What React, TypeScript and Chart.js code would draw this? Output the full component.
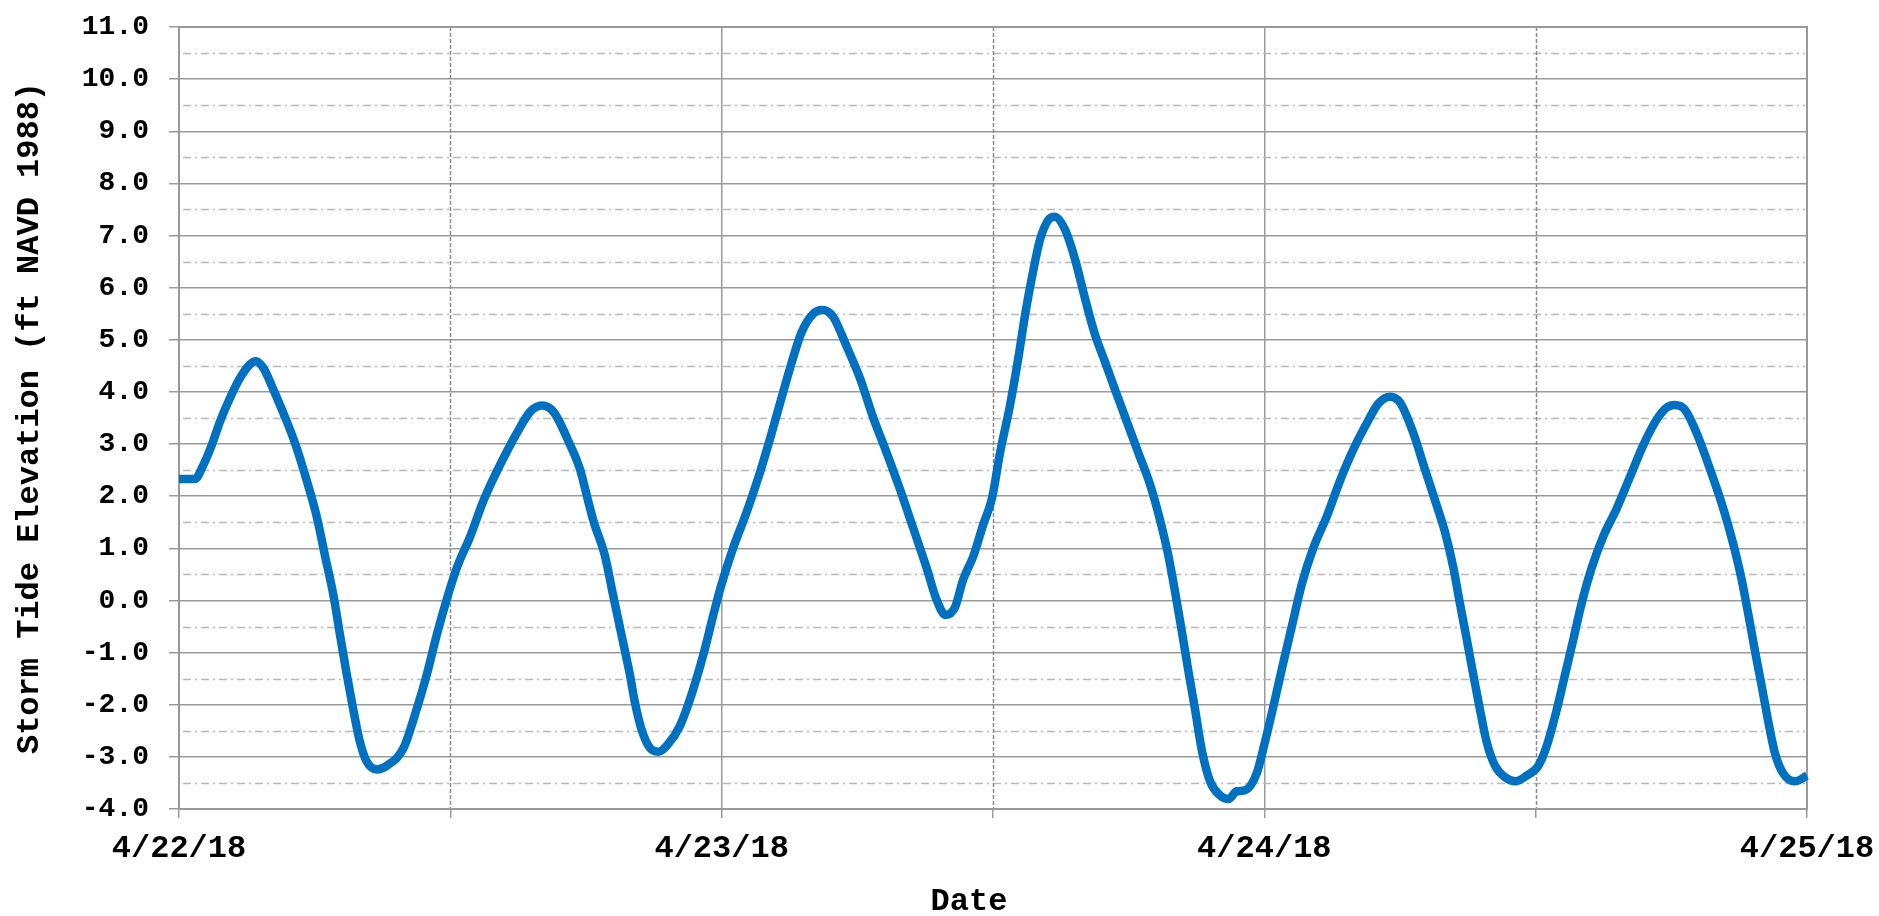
import React, { useEffect, useRef } from "react";
import { Chart, registerables } from "chart.js";

Chart.register(...registerables);

// Hours since 4/22/18 00:00
const HOURS: number[] = [
  0, 0.7, 1.08, 1.45, 1.81, 2.26, 2.7, 3.14, 3.4, 3.73, 4.1, 4.62, 5.13, 5.65, 6.09, 6.46, 6.83, 7.12, 7.42, 7.71,
  8.0, 8.3, 8.75, 9.19, 9.93, 10.5, 10.96, 11.4, 11.84, 12.29, 12.88, 13.47, 14.2, 14.94, 15.53, 16.05, 16.56, 17.3,
  17.73, 18.1, 18.32, 18.84, 19.2, 19.57, 19.94, 20.16, 20.46, 20.83, 21.2, 21.64, 22.15, 22.67, 23.19, 23.63, 24.0,
  24.51, 25.1, 25.69, 26.21, 26.65, 27.1, 27.53, 28.05, 28.46, 28.93, 29.52, 30.11, 30.7, 31.3, 31.88, 32.47, 33.06,
  33.5, 33.9, 34.32, 34.68, 35.13, 35.57, 35.95, 36.31, 36.75, 37.12, 37.42, 37.71, 38.08, 38.45, 38.74, 39.19, 39.63,
  40.07, 40.51, 40.96, 41.4, 41.92, 42.43, 42.95, 43.39, 43.76, 44.05, 44.35, 44.64, 44.94, 45.23, 45.6, 46.04, 46.41,
  46.78, 47.15, 47.66, 48.03, 48.48, 48.84, 49.21, 49.66, 50.17, 50.76, 51.35, 51.94, 52.53, 53.05, 53.56, 54.0,
  54.59, 55.1, 55.55, 55.99, 56.36, 56.65, 56.95, 57.24, 57.54, 57.83, 58.2, 58.64, 59.09, 59.6, 60.12, 60.49, 60.93,
  61.3, 61.67, 62.03, 62.48, 62.99, 63.58, 64.17, 64.76, 65.35, 65.79, 66.16, 66.6, 67.12, 67.71, 68.3, 68.74, 69.11,
  69.41, 69.7, 70.0, 70.29, 70.59, 70.95, 71.47, 72.0,
];

// Storm tide elevation, ft NAVD 1988
const ELEVATION: number[] = [
  2.33, 2.33, 2.6, 2.98, 3.43, 3.89, 4.27, 4.53, 4.59, 4.46, 4.12, 3.59, 3.02, 2.3, 1.61, 0.85, 0.1, -0.66, -1.42, -2.1,
  -2.71, -3.09, -3.24, -3.17, -2.83, -2.1, -1.42, -0.66, 0.02, 0.63, 1.23, 1.92, 2.6, 3.21, 3.62, 3.74, 3.62, 2.98,
  2.52, 1.9, 1.54, 0.85, 0.1, -0.66, -1.42, -1.95, -2.48, -2.83, -2.9, -2.75, -2.41, -1.8, -1.04, -0.28, 0.32,
  1.01, 1.69, 2.45, 3.21, 3.89, 4.57, 5.14, 5.5, 5.57, 5.44, 4.88, 4.27, 3.51, 2.83, 2.14, 1.39, 0.63,
  0.02, -0.28, -0.13, 0.4, 0.85, 1.46, 1.95, 2.83, 3.74, 4.65, 5.48, 6.17, 6.92, 7.3, 7.36, 7.11, 6.54,
  5.79, 5.1, 4.57, 4.04, 3.43, 2.83, 2.22, 1.54, 0.85, 0.17, -0.59, -1.35, -2.1, -2.86, -3.47, -3.74, -3.81,
  -3.66, -3.64, -3.32, -2.71, -1.88, -1.19, -0.51, 0.32, 1.01, 1.61, 2.3, 2.9, 3.4, 3.78, 3.91, 3.8,
  3.21, 2.52, 1.92, 1.31, 0.63, -0.06, -0.74, -1.42, -2.1, -2.71, -3.17, -3.39, -3.47, -3.36, -3.17, -2.79, -2.1,
  -1.42, -0.74, -0.06, 0.63, 1.23, 1.76, 2.37, 2.98, 3.47, 3.7, 3.75, 3.66, 3.21, 2.52, 1.76, 1.08, 0.4,
  -0.28, -0.97, -1.65, -2.33, -2.94, -3.32, -3.47, -3.36,
];

const DAY_TICK_HOURS: number[] = [0, 24, 48, 72];
const DAY_TICK_LABELS: string[] = ["4/22/18", "4/23/18", "4/24/18", "4/25/18"];
const HALF_DAY_HOURS: number[] = [12, 36, 60];
const Y_MIN = -4;
const Y_MAX = 11;
const Y_HALF_LEVELS: number[] = [-3.5, -2.5, -1.5, -0.5, 0.5, 1.5, 2.5, 3.5, 4.5, 5.5, 6.5, 7.5, 8.5, 9.5, 10.5];

const X_TITLE = "Date";
const Y_TITLE = "Storm Tide Elevation (ft NAVD 1988)";

const FONT_FAMILY = "'Courier New', 'Liberation Mono', monospace";
const W = 1879;
const H = 916;

const minorGrid = {
  id: "minorGrid",
  beforeDatasetsDraw(chart: any) {
    const { ctx, chartArea: a, scales } = chart;
    const x = scales.x;
    const y = scales.y;
    ctx.save();
    ctx.lineWidth = 1.5;
    ctx.strokeStyle = "#b9b9b9";
    ctx.setLineDash([8, 4, 2, 4]);
    for (const v of Y_HALF_LEVELS) {
      const py = Math.round(y.getPixelForValue(v)) + 0.5;
      ctx.beginPath();
      ctx.moveTo(a.left + 4, py);
      ctx.lineTo(a.right - 2, py);
      ctx.stroke();
    }
    ctx.strokeStyle = "#8a8a8a";
    ctx.setLineDash([4, 2]);
    for (const h of HALF_DAY_HOURS) {
      const px = Math.round(x.getPixelForValue(h)) + 0.5;
      ctx.beginPath();
      ctx.moveTo(px, a.top);
      ctx.lineTo(px, a.bottom);
      ctx.stroke();
    }
    ctx.setLineDash([]);
    ctx.strokeStyle = "#999999";
    ctx.lineWidth = 2;
    ctx.strokeRect(a.left, a.top, a.right - a.left, a.bottom - a.top);
    ctx.restore();
  },
  afterDraw(chart: any) {
    const { ctx, chartArea: a } = chart;
    ctx.save();
    ctx.fillStyle = "#000";
    ctx.font = `bold 32px ${FONT_FAMILY}`;
    ctx.textAlign = "center";
    ctx.textBaseline = "middle";
    ctx.fillText(X_TITLE, (a.left + a.right) / 2 - 24, chart.height - 14);
    ctx.restore();
  },
};

export default function App() {
  const ref = useRef<HTMLCanvasElement | null>(null);

  useEffect(() => {
    if (!ref.current) return;
    const points = HOURS.map((h, i) => ({ x: h, y: ELEVATION[i] }));
    const chart = new Chart(ref.current, {
      type: "line",
      data: {
        datasets: [
          {
            data: points,
            borderColor: "#0070C0",
            borderWidth: 8.5,
            pointRadius: 0,
            cubicInterpolationMode: "monotone",
            fill: false,
            clip: false as any,
          },
        ],
      },
      options: {
        responsive: false,
        animation: false,
        events: [],
        layout: { padding: { top: 27, right: 72, left: 0, bottom: 0 } },
        plugins: { legend: { display: false }, tooltip: { enabled: false }, title: { display: false } },
        scales: {
          x: {
            type: "linear",
            min: 0,
            max: 72,
            afterBuildTicks: (scale: any) => {
              const all = [...DAY_TICK_HOURS, ...HALF_DAY_HOURS].sort((a, b) => a - b);
              scale.ticks = all.map((v) => ({ value: v }));
            },
            afterFit: (scale: any) => {
              scale.height = 107;
              scale.paddingLeft = 0;
              scale.paddingRight = 0;
            },
            ticks: {
              autoSkip: false,
              maxRotation: 0,
              padding: 12,
              color: "#000",
              font: { family: FONT_FAMILY, size: 32, weight: "bold" },
              callback: (v: any) => {
                const i = DAY_TICK_HOURS.indexOf(Number(v));
                return i >= 0 ? DAY_TICK_LABELS[i] : "";
              },
            },
            grid: {
              color: (ctx: any) => (DAY_TICK_HOURS.includes(ctx.tick?.value) ? "#9a9a9a" : "rgba(0,0,0,0)"),
              tickColor: "#9a9a9a",
              lineWidth: 1.5,
              tickLength: 9,
            },
            border: { display: true, color: "#999999", width: 2 },
            title: { display: false },
          },
          y: {
            type: "linear",
            min: Y_MIN,
            max: Y_MAX,
            afterFit: (scale: any) => {
              scale.width = 179;
              scale.paddingTop = 0;
              scale.paddingBottom = 0;
            },
            ticks: {
              stepSize: 1,
              padding: 20,
              color: "#000",
              font: { family: FONT_FAMILY, size: 28, weight: "bold" },
              callback: (v: any) => Number(v).toFixed(1),
            },
            grid: {
              color: "#9a9a9a",
              tickColor: "#9a9a9a",
              lineWidth: 1.5,
              tickLength: 10,
            },
            border: { display: true, color: "#999999", width: 2 },
            title: {
              display: true,
              text: Y_TITLE,
              color: "#000",
              font: { family: FONT_FAMILY, size: 32, weight: "bold", lineHeight: 1.2 },
              padding: { top: 11, bottom: 0 },
            },
          },
        },
      },
      plugins: [minorGrid],
    });
    return () => chart.destroy();
  }, []);

  return (
    <div style={{ position: "fixed", left: 0, top: 0, width: W, height: H, background: "#fff" }}>
      <canvas ref={ref} width={W} height={H} style={{ display: "block", width: W, height: H }} />
    </div>
  );
}
